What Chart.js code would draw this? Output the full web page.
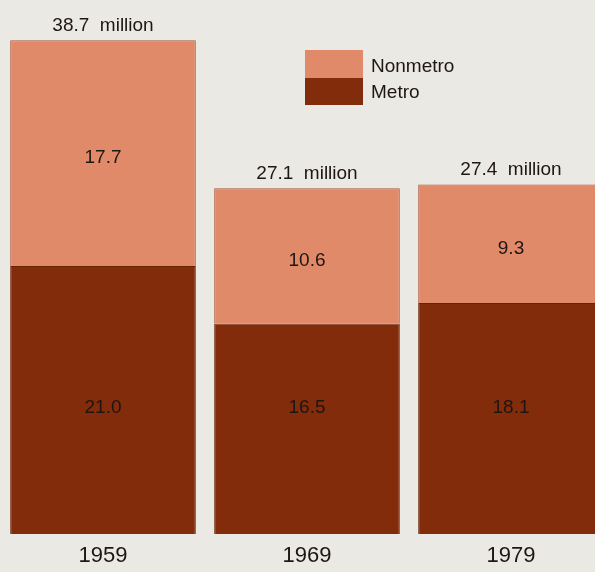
<!DOCTYPE html>
<html>
<head>
<meta charset="utf-8">
<script src="https://cdn.jsdelivr.net/npm/chart.js@4.4.1/dist/chart.umd.min.js"></script>
<style>
  html, body { margin: 0; padding: 0; background: #ebe9e3; overflow: hidden; }
  #wrap { width: 595px; height: 572px; overflow: hidden; position: relative; }
  #wrap canvas { position: absolute; left: 0; top: 0; }
</style>
</head>
<body>
<div id="wrap"><canvas id="myChart" width="620" height="572"></canvas></div>
<script>
// years and millions of people per group
const years = ['1959', '1969', '1979'];
const metro = [21.0, 16.5, 18.1];
const nonmetro = [17.7, 10.6, 9.3];
const totals = ['38.7', '27.1', '27.4'];

const metroColor = '#832c0b';
const nonmetroColor = '#e08a69';
const textColor = '#1e1612';
const fontName = '"Liberation Sans", Arial, sans-serif';

// draws totals above bars, numbers inside the segments, years and the little legend
const labelsPlugin = {
    id: 'labelsPlugin',
    afterDatasetsDraw(chart) {
        const ctx = chart.ctx;
        const x = chart.scales.x;
        const y = chart.scales.y;
        ctx.save();
        ctx.fillStyle = textColor;
        ctx.textAlign = 'center';
        ctx.textBaseline = 'middle';
        for (let i = 0; i < years.length; i++) {
            const cx = x.getPixelForValue(i);
            const top = y.getPixelForValue(metro[i] + nonmetro[i]);
            const mid = y.getPixelForValue(metro[i]);
            const base = y.getPixelForValue(0);
            ctx.font = '19px ' + fontName;
            ctx.fillText(totals[i] + '  million', cx, top - 15);
            ctx.fillText(nonmetro[i].toFixed(1), cx, (top + mid) / 2 + 5);
            // metro numbers sit on one line across the lower part
            ctx.fillText(metro[i].toFixed(1), cx, base - 126);
            ctx.font = '22px ' + fontName;
            ctx.fillText(years[i], cx, base + 22);
        }
        // legend
        ctx.fillStyle = nonmetroColor;
        ctx.fillRect(305, 50, 58, 28);
        ctx.fillStyle = metroColor;
        ctx.fillRect(305, 78, 58, 27);
        ctx.fillStyle = textColor;
        ctx.textAlign = 'left';
        ctx.font = '19px ' + fontName;
        ctx.fillText('Nonmetro', 371, 67);
        ctx.fillText('Metro', 371, 93);
        ctx.restore();
    }
};

new Chart('myChart', {
    type: 'bar',
    data: {
        labels: years,
        datasets: [{
            label: 'Metro',
            data: metro,
            backgroundColor: metroColor,
            borderColor: '#6a2207',
            borderWidth: 1
        }, {
            label: 'Nonmetro',
            data: nonmetro,
            backgroundColor: nonmetroColor,
            borderColor: '#a85a40',
            borderWidth: 1
        }]
    },
    options: {
        responsive: false,
        animation: false,
        layout: { padding: { left: 1, right: 7, top: 11, bottom: 38 } },
        datasets: { bar: { barPercentage: 0.91, categoryPercentage: 1 } },
        plugins: { legend: { display: false }, tooltip: { enabled: false } },
        scales: {
            x: { display: false, stacked: true },
            y: { display: false, stacked: true, min: 0, max: 41 }
        }
    },
    plugins: [labelsPlugin]
});
</script>
</body>
</html>
